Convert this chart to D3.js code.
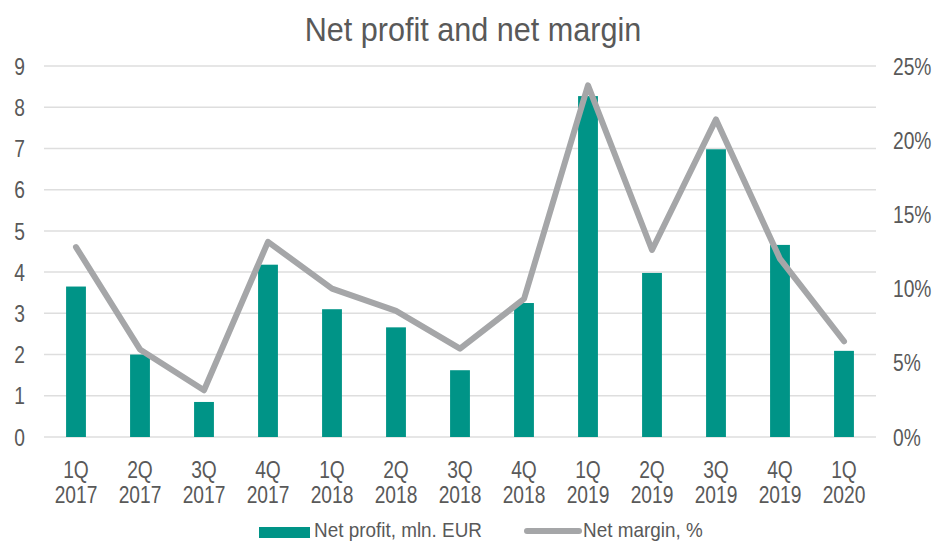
<!DOCTYPE html>
<html>
<head>
<meta charset="utf-8">
<script src="https://cdn.jsdelivr.net/npm/d3@7"></script>
<style>
  body { margin: 0; background: #fff; }
  svg text { font-family: "Liberation Sans Narrow", "Arial Narrow", "Liberation Sans", sans-serif; fill: #595959; }
</style>
</head>
<body>
<svg id="chart"></svg>
<script>
var quarters = ["1Q", "2Q", "3Q", "4Q", "1Q", "2Q", "3Q", "4Q", "1Q", "2Q", "3Q", "4Q", "1Q"];
var years = ["2017", "2017", "2017", "2017", "2018", "2018", "2018", "2018", "2019", "2019", "2019", "2019", "2020"];
var netProfit = [3.65, 2.0, 0.85, 4.18, 3.1, 2.66, 1.62, 3.25, 8.27, 3.98, 6.98, 4.66, 2.09];
var netMargin = [12.8, 5.9, 3.15, 13.15, 10.0, 8.5, 5.95, 9.3, 23.7, 12.6, 21.4, 12.0, 6.45];
var leftTicks = [0, 1, 2, 3, 4, 5, 6, 7, 8, 9];
var rightTicks = [0, 5, 10, 15, 20, 25];

var W = 937, H = 542;
var margin = {top: 66, right: 61, bottom: 105, left: 44};
var width = W - margin.left - margin.right;
var height = H - margin.top - margin.bottom;
// the narrow face is missing here, so squeeze the text horizontally
var sx = 0.8;

var labels = quarters.map(function(q, i) { return q + " " + years[i]; });

var svg0 = d3.select("#chart").attr("width", W).attr("height", H);

svg0.append("text")
    .attr("transform", "translate(473,41) scale(0.9,1)")
    .attr("text-anchor", "middle")
    .style("font-size", "34px")
    .text("Net profit and net margin");

var svg = svg0.append("g")
    .attr("transform", "translate(" + margin.left + "," + margin.top + ")");

var x = d3.scaleBand()
  .domain(labels)
  .range([0, width])
  .paddingInner(0.69)
  .paddingOuter(0.345);
var y = d3.scaleLinear().domain([0, 9]).range([height, 0]);
var y2 = d3.scaleLinear().domain([0, 25]).range([height, 0]);

// gridlines
svg.selectAll(".grid")
  .data(leftTicks)
  .enter()
  .append("line")
  .attr("x1", 0)
  .attr("x2", width)
  .attr("y1", function(d) { return y(d); })
  .attr("y2", function(d) { return y(d); })
  .attr("stroke", "#dedede")
  .attr("stroke-width", 1.5);

// left axis labels
svg.selectAll(".ltick")
  .data(leftTicks)
  .enter()
  .append("text")
  .attr("transform", function(d) { return "translate(-19," + y(d) + ") scale(" + sx + ",1)"; })
  .attr("dy", "0.36em")
  .attr("text-anchor", "end")
  .style("font-size", "24px")
  .text(function(d) { return d; });

// right axis labels
svg.selectAll(".rtick")
  .data(rightTicks)
  .enter()
  .append("text")
  .attr("transform", function(d) { return "translate(" + (width + 17) + "," + y2(d) + ") scale(" + sx + ",1)"; })
  .attr("dy", "0.36em")
  .attr("text-anchor", "start")
  .style("font-size", "24px")
  .text(function(d) { return d + "%"; });

// bars
svg.selectAll(".bar")
  .data(netProfit)
  .enter()
  .append("rect")
  .attr("class", "bar")
  .attr("x", function(d, i) { return x(labels[i]); })
  .attr("y", function(d) { return y(d); })
  .attr("width", x.bandwidth())
  .attr("height", function(d) { return height - y(d); })
  .attr("fill", "#009487");

// line
var line = d3.line()
  .x(function(d, i) { return x(labels[i]) + x.bandwidth() / 2; })
  .y(function(d) { return y2(d); });

svg.append("path")
  .datum(netMargin)
  .attr("d", line)
  .attr("fill", "none")
  .attr("stroke", "#a5a6a8")
  .attr("stroke-width", 6)
  .attr("stroke-linecap", "round")
  .attr("stroke-linejoin", "round");

// x labels
var xl = svg.selectAll(".xlab")
  .data(labels)
  .enter()
  .append("text")
  .attr("text-anchor", "middle")
  .style("font-size", "24px")
  .attr("transform", function(d) { return "translate(" + (x(d) + x.bandwidth() / 2) + "," + (height + 41) + ") scale(" + sx + ",1)"; });
xl.append("tspan").attr("x", 0).attr("y", 0).text(function(d, i) { return quarters[i]; });
xl.append("tspan").attr("x", 0).attr("y", 25).text(function(d, i) { return years[i]; });

// legend
var leg = svg0.append("g");
leg.append("rect")
  .attr("x", 259).attr("y", 527).attr("width", 51).attr("height", 11)
  .attr("fill", "#009487");
leg.append("text")
  .attr("transform", "translate(314,537) scale(0.9,1)")
  .style("font-size", "21px")
  .text("Net profit, mln. EUR");
leg.append("line")
  .attr("x1", 527).attr("x2", 579).attr("y1", 531).attr("y2", 531)
  .attr("stroke", "#a5a6a8").attr("stroke-width", 6).attr("stroke-linecap", "round");
leg.append("text")
  .attr("transform", "translate(583,537) scale(0.9,1)")
  .style("font-size", "21px")
  .text("Net margin, %");
</script>
</body>
</html>
